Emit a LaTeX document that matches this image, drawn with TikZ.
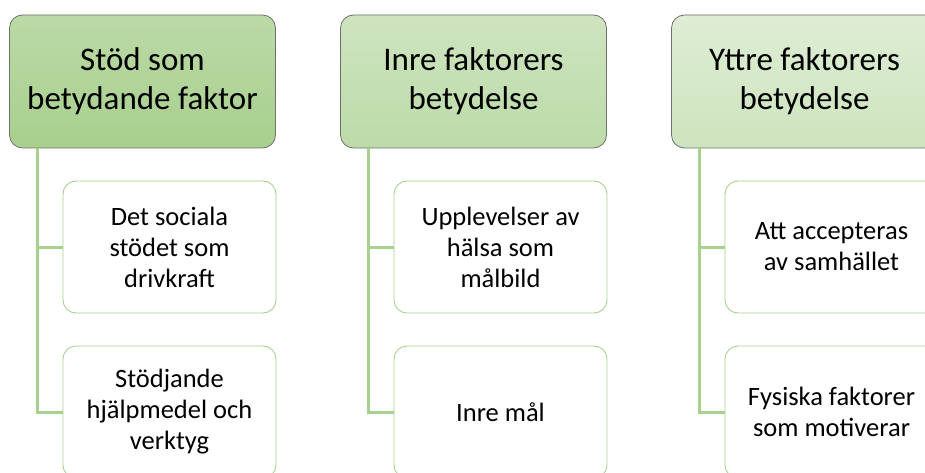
\documentclass[tikz,border=0pt]{standalone}
\usepackage{fontspec}
\setmainfont{Carlito}
\usepackage{xcolor}
\usepackage{tikz}
\usetikzlibrary{positioning}

\definecolor{linegreen}{RGB}{169,209,142}
\definecolor{headborder}{RGB}{112,112,112}

\begin{document}
\begin{tikzpicture}[x=1pt, y=-1pt,
		head/.style={draw=headborder, line width=0.8pt, rounded corners=13pt, minimum width=266pt, minimum height=133pt, align=center, font=\fontsize{33}{39}\selectfont},
		child/.style={draw=linegreen, line width=0.9pt, fill=white, rounded corners=13pt, minimum width=213pt, minimum height=132pt, align=center, font=\fontsize{26.5}{31}\selectfont},
		conn/.style={draw=linegreen, line width=3pt}]
		\clip (0,0) rectangle (925,473);
		\fill[white] (0,0) rectangle (925,473);

		\node[head, top color={rgb,255:red,187;green,218;blue,167}, bottom color={rgb,255:red,168;green,207;blue,141}] (h1) at (142.5,81.5) {Stöd som\\betydande faktor};
		\node[head, top color={rgb,255:red,206;green,228;blue,192}, bottom color={rgb,255:red,188;green,219;blue,168}] (h2) at (473.5,81.5) {Inre faktorers\\betydelse};
		\node[head, top color={rgb,255:red,222;green,237;blue,212}, bottom color={rgb,255:red,205;green,228;blue,190}] (h3) at (804.5,81.5) {Yttre faktorers\\betydelse};

		\node[child] (c11) at (169.5,247) {Det sociala\\stödet som\\drivkraft};
		\node[child] (c12) at (169.5,412) {Stödjande\\hjälpmedel och\\verktyg};
		\node[child] (c21) at (500.5,247) {Upplevelser av\\hälsa som\\målbild};
		\node[child] (c22) at (500.5,412) {Inre mål};
		\node[child] (c31) at (831.5,247) {Att accepteras\\av samhället};
		\node[child] (c32) at (831.5,412) {Fysiska faktorer\\som motiverar};

		\draw[conn] ([xshift=28pt]h1.south west) |- (c11.west);
		\draw[conn] ([xshift=28pt]h1.south west) |- (c12.west);
		\draw[conn] ([xshift=28pt]h2.south west) |- (c21.west);
		\draw[conn] ([xshift=28pt]h2.south west) |- (c22.west);
		\draw[conn] ([xshift=28pt]h3.south west) |- (c31.west);
		\draw[conn] ([xshift=28pt]h3.south west) |- (c32.west);
	\end{tikzpicture}
\end{document}
